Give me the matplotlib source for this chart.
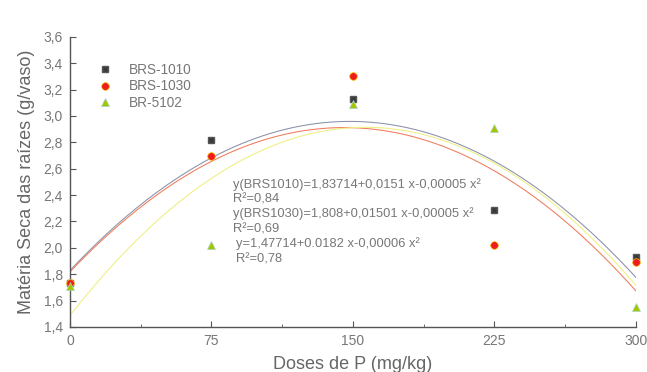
import numpy as np
import matplotlib
matplotlib.use("Agg")
import matplotlib.pyplot as plt
from matplotlib.ticker import MultipleLocator, FuncFormatter

plt.rcParams['font.family'] = ['Liberation Sans', 'DejaVu Sans']

doses = [0, 75, 150, 225, 300]
brs1010 = [1.73, 2.82, 3.13, 2.29, 1.93]
brs1030 = [1.73, 2.70, 3.30, 2.02, 1.89]
br5102 = [1.71, 2.02, 3.09, 2.91, 1.55]
labels = ["BRS-1010", "BRS-1030", "BR-5102"]
eq_texts = [
    "y(BRS1010)=1,83714+0,0151 x-0,00005 x²",
    "R²=0,84",
    "y(BRS1030)=1,808+0,01501 x-0,00005 x²",
    "R²=0,69",
    "y=1,47714+0.0182 x-0,00006 x²",
    "R²=0,78",
]

fig = plt.figure(figsize=(6.47, 3.72), dpi=100)
ax = fig.add_axes([0.108, 0.121, 0.875, 0.78])

x = np.array(doses, dtype=float)
xx = np.linspace(0, 300, 300)
series = [brs1010, brs1030, br5102]
line_colors = ["#8a90a8", "#f07a5a", "#f0ee80"]
marker_styles = [
    dict(marker='s', color='#3a3a3a', markeredgecolor='#555555', markersize=4.5),
    dict(marker='o', color='#ee1c1c', markeredgecolor='#f5c000', markersize=5.5, markeredgewidth=0.5),
    dict(marker='^', color='#a8c400', markeredgecolor='#9fd6c8', markersize=6, markeredgewidth=0.5),
]

for ys, lc in zip(series, line_colors):
    p = np.polyfit(x, ys, 2)
    ax.plot(xx, np.polyval(p, xx), color=lc, lw=0.75, zorder=2)

handles = []
for ys, st, lab in zip(series, marker_styles, labels):
    h, = ax.plot(x, ys, linestyle='none', clip_on=False, zorder=3, label=lab, **st)
    handles.append(h)

ax.set_xlim(0, 300)
ax.set_ylim(1.4, 3.6)
ax.xaxis.set_major_locator(MultipleLocator(75))
ax.xaxis.set_minor_locator(MultipleLocator(37.5))
ax.yaxis.set_major_locator(MultipleLocator(0.2))
ax.yaxis.set_major_formatter(FuncFormatter(lambda v, p: f"{v:.1f}".replace('.', ',')))
ax.xaxis.set_major_formatter(FuncFormatter(lambda v, p: f"{v:.0f}"))

for s in ['top', 'right']:
    ax.spines[s].set_visible(False)
for s in ['left', 'bottom']:
    ax.spines[s].set_color('#555555')
    ax.spines[s].set_linewidth(1.0)

ax.tick_params(axis='both', which='major', direction='in', length=4, color='#555555',
               labelsize=10, labelcolor='#777777', pad=5)
ax.tick_params(axis='x', which='minor', direction='in', length=2.5, color='#555555')

ax.set_xlabel("Doses de P (mg/kg)", fontsize=13, color='#666666', labelpad=6)
ax.set_ylabel("Matéria Seca das raízes (g/vaso)", fontsize=13, color='#666666', labelpad=6)

ax.legend(handles=handles, loc='upper left', bbox_to_anchor=(0.04, 0.93), frameon=False,
          fontsize=9.8, labelcolor='#777777', handletextpad=1.3, labelspacing=0.2,
          handlelength=1.0, borderaxespad=0)

eq_pos = [(233, 185), (233, 200), (233, 214), (233, 229), (236, 244), (236, 259)]
for (xp, yp), t in zip(eq_pos, eq_texts):
    fig.text(xp / 647, 1 - yp / 372, t, fontsize=9.3, color='#777777', va='center', ha='left')

fig.savefig("out.png", dpi=100)
